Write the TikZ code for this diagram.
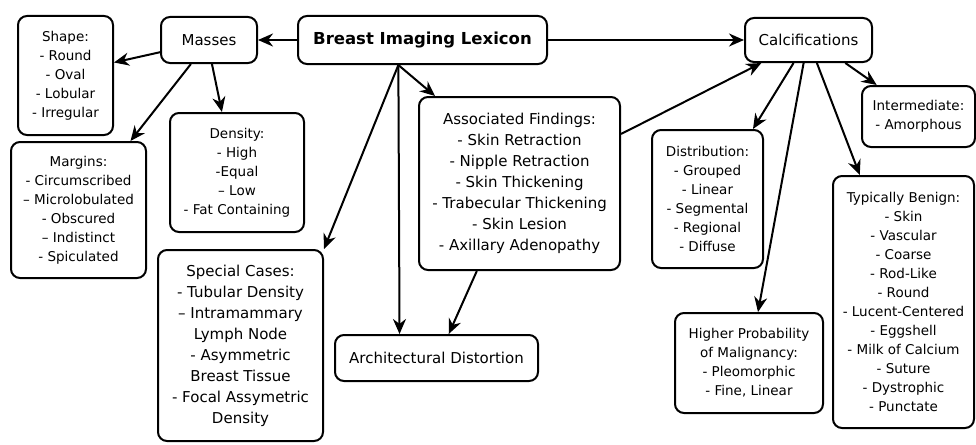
\documentclass[tikz,border=0pt]{standalone}
\usepackage{fontspec}
\setmainfont{DejaVu Sans}
\usetikzlibrary{arrows.meta}
\tikzset{
  box/.style={draw, line width=2pt, rounded corners=9pt, align=center, inner sep=2pt},
  big/.style={font=\fontsize{15}{21}\selectfont},
  small/.style={font=\fontsize{13.5}{19}\selectfont},
  arr/.style={line width=2pt, -{Stealth[length=15pt,width=13pt]}},
}
\begin{document}
\begin{tikzpicture}[x=1pt,y=-1pt]
\useasboundingbox[fill=white] (0,0) rectangle (976,444);
\node[box,font=\fontsize{16.5}{20}\selectfont\bfseries,minimum width=249pt,minimum height=48pt] (bil) at (422.5,40) {Breast Imaging Lexicon};
\node[box,big,minimum width=96pt,minimum height=46pt] (masses) at (209,40) {Masses};
\node[box,big,minimum width=127pt,minimum height=44pt] (calc) at (808.5,40) {Calcifications};
\node[box,small,minimum width=95pt,minimum height=119pt] (shape) at (65.5,75.5) {Shape:\\- Round\\- Oval\\- Lobular\\- Irregular};
\node[box,small,minimum width=135pt,minimum height=136pt] (margins) at (78.5,210) {Margins:\\- Circumscribed\\– Microlobulated\\- Obscured\\– Indistinct\\- Spiculated};
\node[box,small,minimum width=134pt,minimum height=119pt] (density) at (237,172.5) {Density:\\- High\\-Equal\\– Low\\- Fat Containing};
\node[box,big,minimum width=165pt,minimum height=191pt] (special) at (240.5,345.5) {Special Cases:\\- Tubular Density\\– Intramammary\\Lymph Node\\- Asymmetric\\Breast Tissue\\- Focal Assymetric\\Density};
\node[box,big,minimum width=201pt,minimum height=173pt] (assoc) at (519.5,183.5) {Associated Findings:\\- Skin Retraction\\- Nipple Retraction\\- Skin Thickening\\- Trabecular Thickening\\- Skin Lesion\\- Axillary Adenopathy};
\node[box,big,minimum width=203pt,minimum height=46pt] (arch) at (436.5,358) {Architectural Distortion};
\node[box,small,minimum width=113pt,minimum height=61pt] (inter) at (918.5,116.5) {Intermediate:\\- Amorphous};
\node[box,small,minimum width=111pt,minimum height=138pt] (distr) at (707.5,199) {Distribution:\\- Grouped\\- Linear\\- Segmental\\- Regional\\- Diffuse};
\node[box,small,minimum width=141pt,minimum height=252pt] (benign) at (903.5,302) {Typically Benign:\\- Skin\\- Vascular\\- Coarse\\- Rod-Like\\- Round\\- Lucent-Centered\\- Eggshell\\- Milk of Calcium\\- Suture\\- Dystrophic\\- Punctate};
\node[box,small,minimum width=148pt,minimum height=100pt] (higher) at (749,363) {Higher Probability\\of Malignancy:\\- Pleomorphic\\- Fine, Linear};
% connectors
\draw[arr] (bil.west) -- (masses.east);
\draw[arr] (bil.east) -- (calc.west);
\draw[arr] (masses.194) -- (shape.15);
\draw[arr] (masses.233) -- (margins.53);
\draw[arr] (masses.277) -- (density.104);
\draw[arr] (bil.226.8) -- (special.north east);
\draw[arr] (bil.226.8) -- (arch.147.8);
\draw[arr] (bil.226.8) -- (assoc.134);
\draw[arr] (assoc.244.4) -- (arch.63.4);
\draw[arr] (assoc.26.7) -- (calc.206.3);
\draw[arr] (calc.237.6) -- (distr.57.3);
\draw[arr] (calc.258) -- (higher.80.4);
\draw[arr] (calc.290) -- (benign.109.7);
\draw[arr] (calc.328.9) -- (inter.143.6);
\end{tikzpicture}
\end{document}
